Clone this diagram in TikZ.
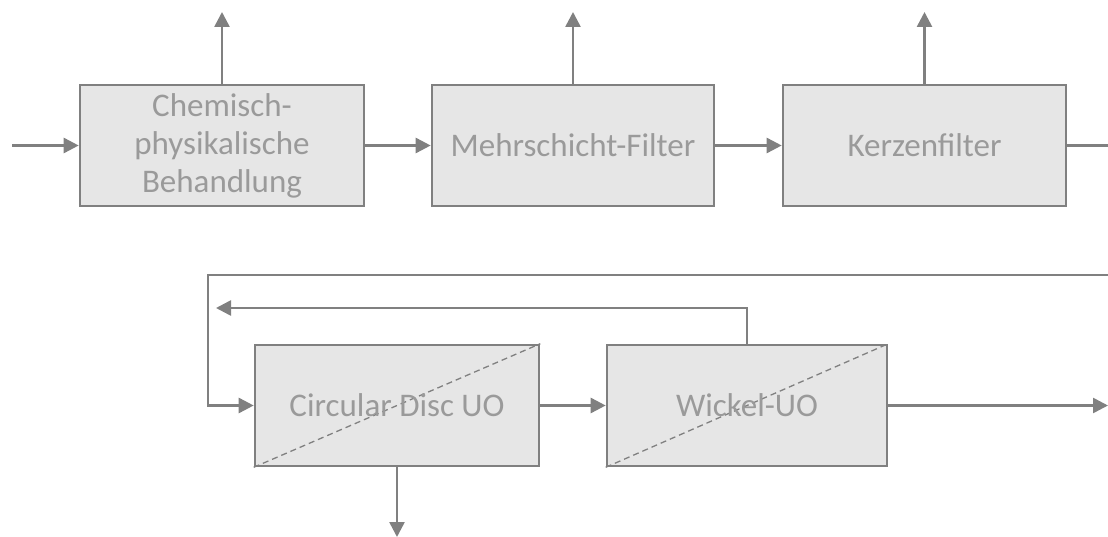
\documentclass[tikz,border=0pt]{standalone}
\usepackage{fontspec}
\setmainfont{Carlito}
\usetikzlibrary{arrows.meta}
\definecolor{ln}{HTML}{808080}
\definecolor{bx}{HTML}{E6E6E6}
\definecolor{tx}{HTML}{9A9A9A}
\tikzset{
  unit/.style={draw=ln, fill=bx, line width=2.6pt, minimum height=121pt, text=tx,
    font=\fontsize{33}{38}\selectfont, align=center, inner sep=0pt},
  flow/.style={draw=ln, line width=2.6pt, -{Triangle[length=15pt,width=15pt]}},
  plain/.style={draw=ln, line width=2.6pt},
  diag/.style={draw=ln, line width=1.3pt, dash pattern=on 6pt off 4pt}
}
\begin{document}
\begin{tikzpicture}[x=1pt,y=-1pt]
\useasboundingbox (0,0) rectangle (1108,537);
\node[unit, minimum width=284pt] (b1) at (222,145.5) {Chemisch-\\physikalische\\Behandlung};
\node[unit, minimum width=282pt] (b2) at (573,145.5) {Mehrschicht-Filter};
\node[unit, minimum width=283pt] (b3) at (924.5,145.5) {Kerzenfilter};
\node[unit, minimum width=284pt] (b4) at (397,405.5) {};
\node[unit, minimum width=280pt] (b5) at (747,405.5) {};
\draw[diag] (b4.south west) -- (b4.north east);
\draw[diag] (b5.south west) -- (b5.north east);
\node[text=tx, font=\fontsize{33}{38}\selectfont, inner sep=0pt] (t4) at (b4.center) {Circular Disc UO};
\node[text=tx, font=\fontsize{33}{38}\selectfont, inner sep=0pt] (t5) at (b5.center) {Wickel-UO};
\coordinate (in) at (12,145.5);
\coordinate (u1) at (222,12);
\coordinate (u2) at (573,12);
\coordinate (u3) at (924.5,12);
\coordinate (r1) at (1110,145.5);
\coordinate (r2) at (1110,275);
\coordinate (lc) at (208,275);
\coordinate (lb) at (208,405.5);
\coordinate (rt) at (747,308);
\coordinate (rl) at (216,308);
\coordinate (out) at (1108,405.5);
\coordinate (dn) at (397,537);
\draw[flow] (in) -- (b1.west);
\draw[flow] (b1.north) -- (u1);
\draw[flow] (b2.north) -- (u2);
\draw[flow] (b3.north) -- (u3);
\draw[flow] (b1.east) -- (b2.west);
\draw[flow] (b2.east) -- (b3.west);
\draw[plain] (b3.east) -- (r1);
\draw[flow] (r2) -- (lc) -- (lb) -- (b4.west);
\draw[flow] (b5.north) -- (rt) -- (rl);
\draw[flow] (b4.east) -- (b5.west);
\draw[flow] (b5.east) -- (out);
\draw[flow] (b4.south) -- (dn);
\end{tikzpicture}
\end{document}
